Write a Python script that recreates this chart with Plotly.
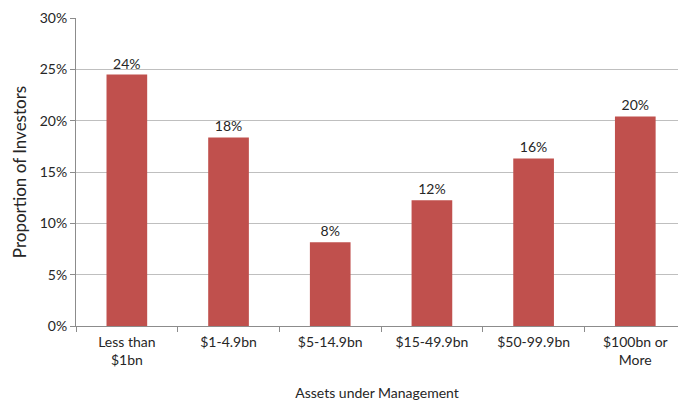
import plotly.graph_objects as go

# Survey responses by fund size (number of investors out of 49)
categories = ["Less than<br>$1bn", "$1-4.9bn", "$5-14.9bn", "$15-49.9bn", "$50-99.9bn", "$100bn or<br>More"]
counts = [12, 9, 4, 6, 8, 10]
total = sum(counts)
shares = [c / total for c in counts]
y_ticks = [0, 0.05, 0.10, 0.15, 0.20, 0.25, 0.30]

font_family = "Lato, 'Open Sans', sans-serif"

fig = go.Figure(
    go.Bar(
        x=categories,
        y=shares,
        marker=dict(color="#C0504D", line=dict(width=0)),
        width=0.4,
        text=[f"{s:.0%}" for s in shares],
        textposition="outside",
        textfont=dict(size=14, color="#262626", family=font_family),
        cliponaxis=False,
    )
)

fig.update_layout(
    width=678,
    height=401,
    margin=dict(l=76, r=0, t=18, b=75),
    paper_bgcolor="white",
    plot_bgcolor="white",
    font=dict(family=font_family, size=14, color="#262626"),
    showlegend=False,
    xaxis=dict(
        type="category",
        range=[-0.5, 5.42],
        tickson="boundaries",
        ticks="outside",
        ticklen=5,
        tickcolor="#8c8c8c",
        showline=True,
        linecolor="#8c8c8c",
        showgrid=False,
        tickfont=dict(size=14),
        ticklabelstandoff=3,
        title=dict(text="Assets under Management", font=dict(size=14), standoff=22),
    ),
    yaxis=dict(
        range=[0, 0.30],
        tickvals=y_ticks,
        tickformat=".0%",
        ticks="outside",
        ticklen=5,
        tickcolor="#8c8c8c",
        showline=True,
        linecolor="#8c8c8c",
        showgrid=True,
        gridcolor="#bfbfbf",
        zeroline=False,
        tickfont=dict(size=14),
        title=dict(text="Proportion of Investors", font=dict(size=17), standoff=8),
    ),
)

fig.write_html("out.html")
